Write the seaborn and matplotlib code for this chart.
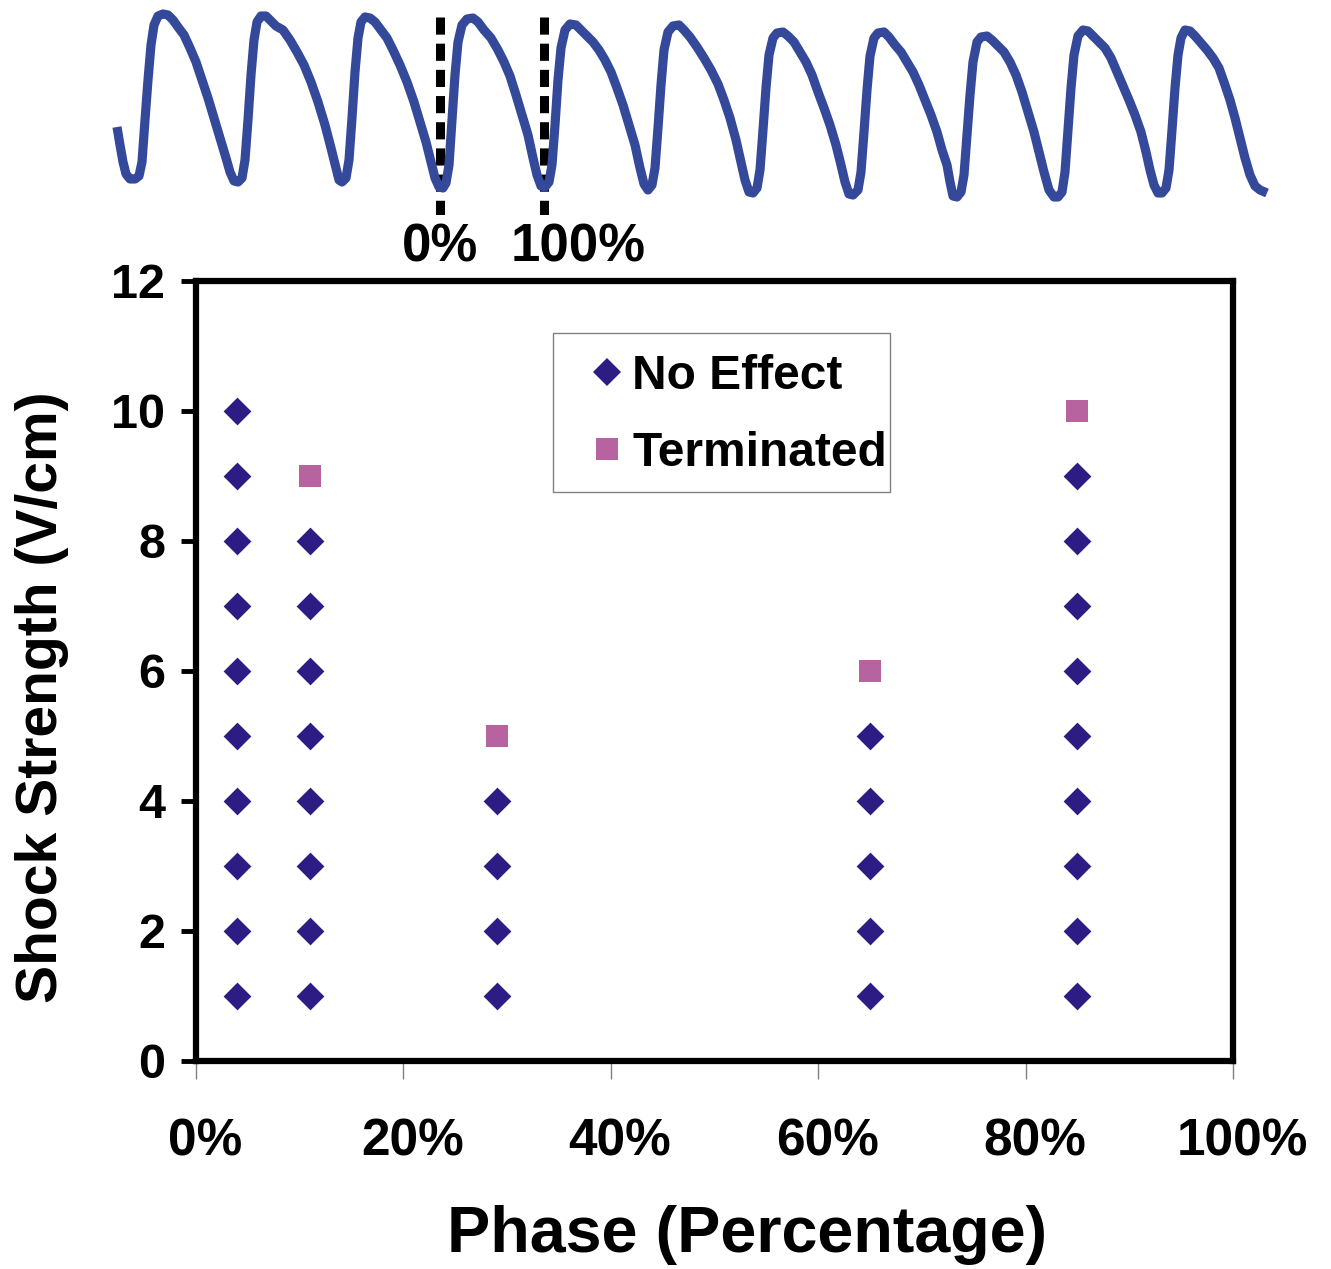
import matplotlib
matplotlib.use("Agg")
import matplotlib.pyplot as plt
import matplotlib.transforms as mtransforms
from matplotlib.lines import Line2D
from matplotlib.patches import Rectangle
import pandas as pd
import seaborn as sns

# ---------------- data ----------------
no_effect_phase = [4, 4, 4, 4, 4, 4, 4, 4, 4, 4,
                   11, 11, 11, 11, 11, 11, 11, 11,
                   29, 29, 29, 29,
                   65, 65, 65, 65, 65,
                   85, 85, 85, 85, 85, 85, 85, 85, 85]
no_effect_strength = [1, 2, 3, 4, 5, 6, 7, 8, 9, 10,
                      1, 2, 3, 4, 5, 6, 7, 8,
                      1, 2, 3, 4,
                      1, 2, 3, 4, 5,
                      1, 2, 3, 4, 5, 6, 7, 8, 9]
terminated_phase = [11, 29, 65, 85]
terminated_strength = [9, 5, 6, 10]

x_ticks = [0, 20, 40, 60, 80, 100]
x_tick_labels = ["0%", "20%", "40%", "60%", "80%", "100%"]
y_ticks = [0, 2, 4, 6, 8, 10, 12]

# optical action-potential trace (arbitrary time / signal units)
trace_time = [117, 120, 123, 126, 130, 135, 139, 142, 145, 148, 151, 154, 158, 163, 168, 173, 178, 184, 190, 196,
              202, 208, 214, 220, 226, 230, 234, 238,
              242, 245, 248, 251, 254, 257, 261, 266, 270, 276, 283, 290, 297, 304, 311, 318, 325, 331, 336, 339, 342,
              346, 349, 352, 355, 358, 361, 365, 370, 375, 381, 387, 393, 400, 407, 414, 420, 426, 431, 435, 439, 443,
              446, 449, 452, 455, 458, 462, 467, 473, 478, 484, 491, 498, 504, 510, 516, 522, 528, 533, 537, 541, 545,
              549, 552, 555, 558, 561, 565, 570, 576, 581, 587, 593, 599, 605, 611, 617, 623, 629, 635, 640, 644, 648,
              652, 655, 658, 661, 664, 668, 673, 679, 684, 690, 697, 704, 711, 718, 724, 730, 736, 741, 745, 749, 753,
              757, 760, 763, 766, 769, 773, 777, 783, 788, 794, 800, 806, 812, 818, 824, 830, 836, 841, 845, 849, 853,
              858, 861, 864, 867, 870, 874, 878, 884, 889, 895, 901, 907, 913, 919, 925, 931, 937, 942, 947, 950, 953, 957,
              961, 964, 967, 970, 973, 977, 981, 987, 992, 998, 1004, 1010, 1016, 1022, 1028, 1034, 1039, 1044, 1049, 1054, 1058,
              1062, 1065, 1068, 1071, 1074, 1078, 1083, 1088, 1093, 1099, 1105, 1111, 1117, 1123, 1129, 1135, 1141, 1146, 1150, 1154, 1158, 1162,
              1166, 1169, 1172, 1175, 1178, 1181, 1185, 1190, 1195, 1201, 1207, 1213, 1219, 1225, 1230, 1235, 1240, 1245, 1250, 1255, 1260, 1267]
trace_signal = [73, 55, 38, 26, 21, 21, 24, 38, 80, 120, 155, 175, 184, 186, 185, 180, 173, 165, 152, 138,
                120, 102, 82, 62, 42, 28, 19, 18,
                22, 40, 80, 125, 160, 178, 184, 184, 180, 174, 170, 160, 148, 135, 118, 98, 75, 52, 32, 20, 18,
                22, 40, 82, 128, 162, 178, 183, 182, 178, 170, 162, 150, 135, 118, 98, 78, 58, 38, 22, 13, 12,
                17, 35, 80, 125, 158, 175, 181, 182, 178, 170, 162, 150, 138, 124, 105, 85, 65, 42, 25, 14, 13,
                18, 35, 75, 120, 152, 170, 176, 175, 170, 164, 158, 150, 140, 128, 112, 95, 75, 55, 32, 16, 10,
                15, 32, 72, 115, 150, 168, 174, 175, 170, 163, 153, 142, 130, 116, 100, 82, 60, 38, 20, 8, 7,
                12, 30, 70, 112, 145, 162, 167, 168, 164, 158, 148, 138, 125, 108, 92, 75, 55, 35, 18, 6, 5,
                10, 28, 68, 110, 144, 162, 167, 168, 163, 155, 148, 138, 128, 115, 100, 85, 68, 50, 35, 18, 4, 3,
                8, 25, 65, 105, 138, 158, 163, 164, 160, 154, 148, 138, 125, 108, 88, 68, 48, 28, 10, 3, 3,
                8, 28, 70, 112, 145, 164, 170, 169, 164, 158, 152, 142, 128, 114, 100, 85, 68, 48, 30, 15, 7, 7,
                12, 30, 70, 112, 145, 162, 170, 169, 164, 157, 150, 142, 132, 115, 100, 82, 62, 42, 25, 14, 10, 7]
cycle_start_time = 440
cycle_end_time = 544
cycle_labels = ["0%", "100%"]

# ---------------- style ----------------
sns.set_style("white")
plt.rcParams["font.family"] = ["Liberation Sans", "DejaVu Sans"]
plt.rcParams["font.weight"] = "bold"
for key in ("text.color", "axes.labelcolor", "xtick.labelcolor", "ytick.labelcolor"):
    plt.rcParams[key] = "black"

W, H = 1331, 1269
fig = plt.figure(figsize=(W / 100, H / 100), dpi=100)

navy = "#2E1C85"
pink = "#B763A0"
trace_blue = "#34499A"

# ---------------- main scatter ----------------
L, R, T, B = 196, 1233, 281, 1061
ax = fig.add_axes([L / W, 1 - B / H, (R - L) / W, (B - T) / H])

def ax_x(px):
    return (px - L) / (R - L)

def ax_y(py):
    return 1 - (py - T) / (B - T)

df_ne = pd.DataFrame({"phase": no_effect_phase, "strength": no_effect_strength})
df_t = pd.DataFrame({"phase": terminated_phase, "strength": terminated_strength})

sns.scatterplot(data=df_ne, x="phase", y="strength", marker="D", s=200,
                color=navy, linewidth=0, ax=ax, zorder=3)
sns.scatterplot(data=df_t, x="phase", y="strength", marker="s", s=255,
                color=pink, linewidth=0, ax=ax, zorder=3)

ax.set_xlim(0, 100)
ax.set_ylim(0, 12)
ax.set_xticks(x_ticks)
ax.set_xticklabels(x_tick_labels)
ax.set_yticks(y_ticks)
ax.tick_params(axis="x", direction="out", length=13, width=1.0, color="#808080",
               pad=28, labelsize=37, bottom=True, labelcolor="black")
ax.tick_params(axis="y", direction="out", length=11, width=3.5, color="black",
               pad=11, labelsize=35, left=True, labelcolor="black")
for lab in ax.get_xticklabels():
    lab.set_fontweight("bold")
    lab.set_transform(lab.get_transform() + mtransforms.ScaledTranslation(0.09, 0, fig.dpi_scale_trans))
for lab in ax.get_yticklabels():
    lab.set_fontweight("bold")

for sp in ax.spines.values():
    sp.set_visible(True)
    sp.set_color("black")
    sp.set_linewidth(4.5)

ax.set_xlabel("Phase (Percentage)", fontsize=46.5, fontweight="bold", va="center", color="black")
ax.xaxis.set_label_coords(ax_x(747), -(1235 - B) / (B - T))
ax.set_ylabel("Shock Strength (V/cm)", fontsize=41, fontweight="bold", va="center", color="black")
ax.yaxis.set_label_coords(ax_x(42), ax_y(697))

# legend frame (text slightly overflows it, as in the original)
ax.add_patch(Rectangle((ax_x(553), ax_y(492)), ax_x(890) - ax_x(553), ax_y(333) - ax_y(492),
                       transform=ax.transAxes, facecolor="white", edgecolor="#808080",
                       linewidth=1.0, zorder=4))
handles = [
    Line2D([], [], marker="D", linestyle="none", markersize=14, color=navy, markeredgewidth=0),
    Line2D([], [], marker="s", linestyle="none", markersize=16, color=pink, markeredgewidth=0),
]
leg = ax.legend(handles, ["No Effect", "Terminated"], loc="center left",
                bbox_to_anchor=(ax_x(592), ax_y(415)),
                prop={"size": 34.5, "weight": "bold"}, frameon=False,
                handlelength=0.62, handletextpad=0.22,
                borderpad=0, labelspacing=0.66, borderaxespad=0,
                handleheight=0.7)
leg.set_zorder(5)
for t in leg.get_texts():
    t.set_color("black")

# ---------------- top trace ----------------
top_h = 215
ax_top = fig.add_axes([0, 1 - top_h / H, 1, top_h / H])
df_tr = pd.DataFrame({"time": trace_time, "signal": trace_signal})
sns.lineplot(data=df_tr, x="time", y="signal", color=trace_blue, linewidth=6.6,
             sort=False, estimator=None, ax=ax_top, solid_joinstyle="round",
             solid_capstyle="butt")
for tx in (cycle_start_time, cycle_end_time):
    ax_top.plot([tx, tx], [183, -15], color="black", linewidth=6.5,
                linestyle=(0, (1.9, 1.0)), dash_capstyle="butt", zorder=1)
ax_top.set_xlim(0, W)
ax_top.set_ylim(200 - top_h, 200)
ax_top.axis("off")
ax_top.text(440, -48, cycle_labels[0], ha="center", va="center", fontsize=38,
            fontweight="bold", clip_on=False, color="black")
ax_top.text(578, -48, cycle_labels[1], ha="center", va="center", fontsize=38,
            fontweight="bold", clip_on=False, color="black")

fig.savefig("out.png", dpi=100)
